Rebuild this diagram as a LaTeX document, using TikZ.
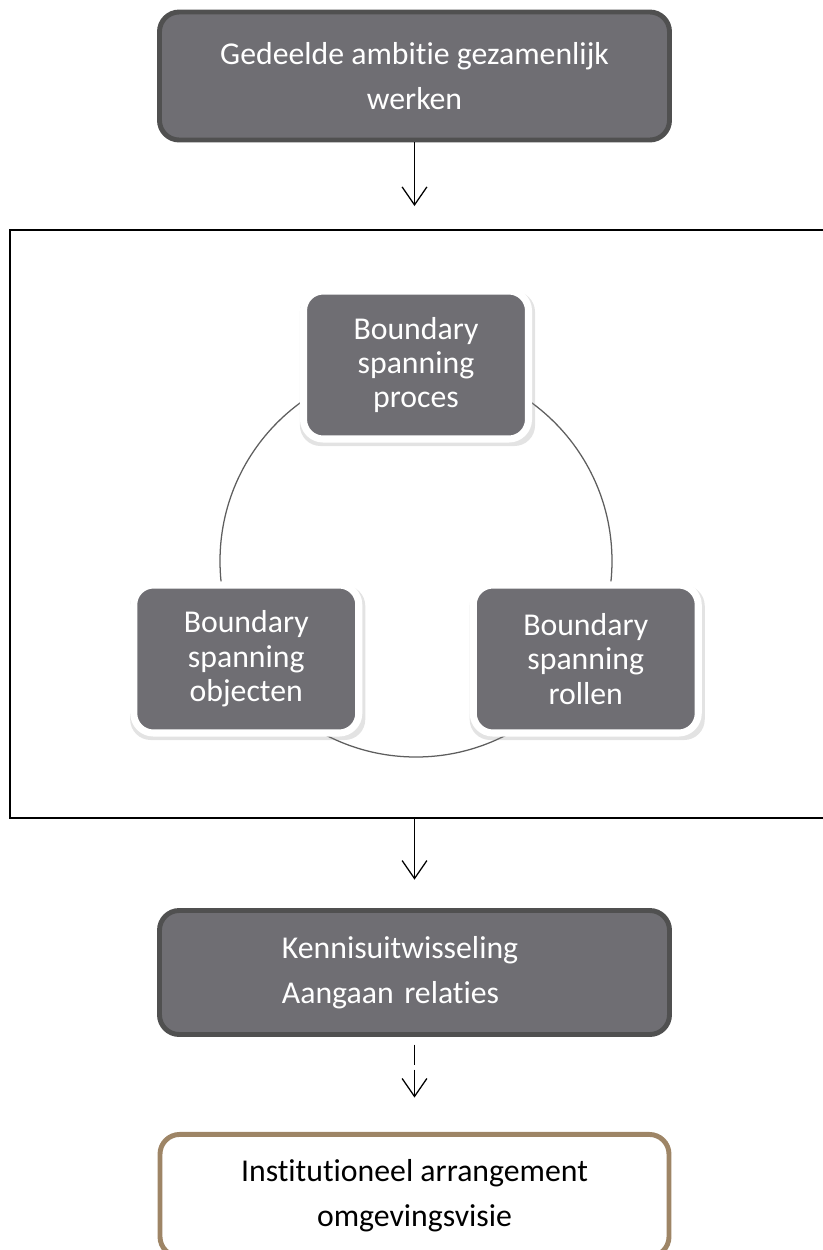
\documentclass[tikz,border=0pt]{standalone}
\usepackage{fontspec}
\setmainfont{Carlito}[Ligatures=NoCommon]
\usepackage{xcolor}
\usepackage{tikz}
\usetikzlibrary{arrows.meta,positioning,calc,shadows}
\definecolor{BsGrijs}{HTML}{6F6E73}
\definecolor{BsRand}{HTML}{505050}
\definecolor{BsBoog}{HTML}{5E5E5E}
\definecolor{BsBruin}{HTML}{9E8566}

\begin{document}
\begin{tikzpicture}[
  blok/.style={draw=BsRand, line width=3.5pt, fill=BsGrijs, text=white, rounded corners=14pt, minimum width=12.75cm, minimum height=3.2cm, align=center, font=\fontsize{22.6}{32}\selectfont},
  rol/.style={draw=white, line width=5pt, fill=BsGrijs, text=white, rounded corners=14pt, minimum width=5.625cm, minimum height=3.7cm, align=center, font=\fontsize{22.6}{24.5}\selectfont, drop shadow={opacity=0.22, shadow xshift=1pt, shadow yshift=-2.5pt, shadow scale=1.045}},
  uitkomst/.style={draw=BsBruin, line width=3.5pt, fill=white, rounded corners=14pt, minimum width=12.725cm, minimum height=3.05cm, align=center, font=\fontsize{22.6}{32}\selectfont},
  kaderbox/.style={draw=black, line width=1.4pt, minimum width=20.5cm, minimum height=14.7cm},
  boog/.style={draw=BsBoog, line width=0.9pt},
  pijl/.style={-{Straight Barb[length=0.45cm,width=0.62cm]}, line width=0.9pt}
]
\useasboundingbox (0,0) rectangle (20.575,-31.25);

\node[blok] (gedeeld) at (10.3625,-1.9) {Gedeelde ambitie gezamenlijk\\werken};
\node[kaderbox] (kader) at (10.5,-13.1) {};

\coordinate (hart) at (10.4,-14.025);
\draw[boog] (hart) circle[radius=4.9cm];
\node[rol] (proces) at ($(hart)+(90:4.9cm)$) {Boundary\\spanning\\proces};
\node[rol] (objecten) at ($(hart)+(210:4.9cm)$) {Boundary\\spanning\\objecten};
\node[rol] (rollen) at ($(hart)+(330:4.9cm)$) {Boundary\\spanning\\rollen};

\node[blok, minimum height=3.1cm, inner xsep=0pt, text width=12.75cm, align=left] (kennis) at (10.3625,-24.3125) {\hspace*{3.06cm}Kennisuitwisseling\\\hspace*{3.06cm}Aangaan relaties};
\node[uitkomst, below=2.375cm of kennis] (arrangement) {Institutioneel arrangement\\omgevingsvisie};

\draw[pijl, shorten >=0.575cm] (gedeeld.south) -- (gedeeld.south |- kader.north);
\draw[pijl, shorten >=0.71cm] (kennis.north |- kader.south) -- (kennis.north);
\draw[pijl, dash pattern=on 0.5cm off 0.125cm on 3cm, shorten <=0.19cm, shorten >=0.86cm] (kennis.south) -- (arrangement.north);
\end{tikzpicture}
\end{document}
